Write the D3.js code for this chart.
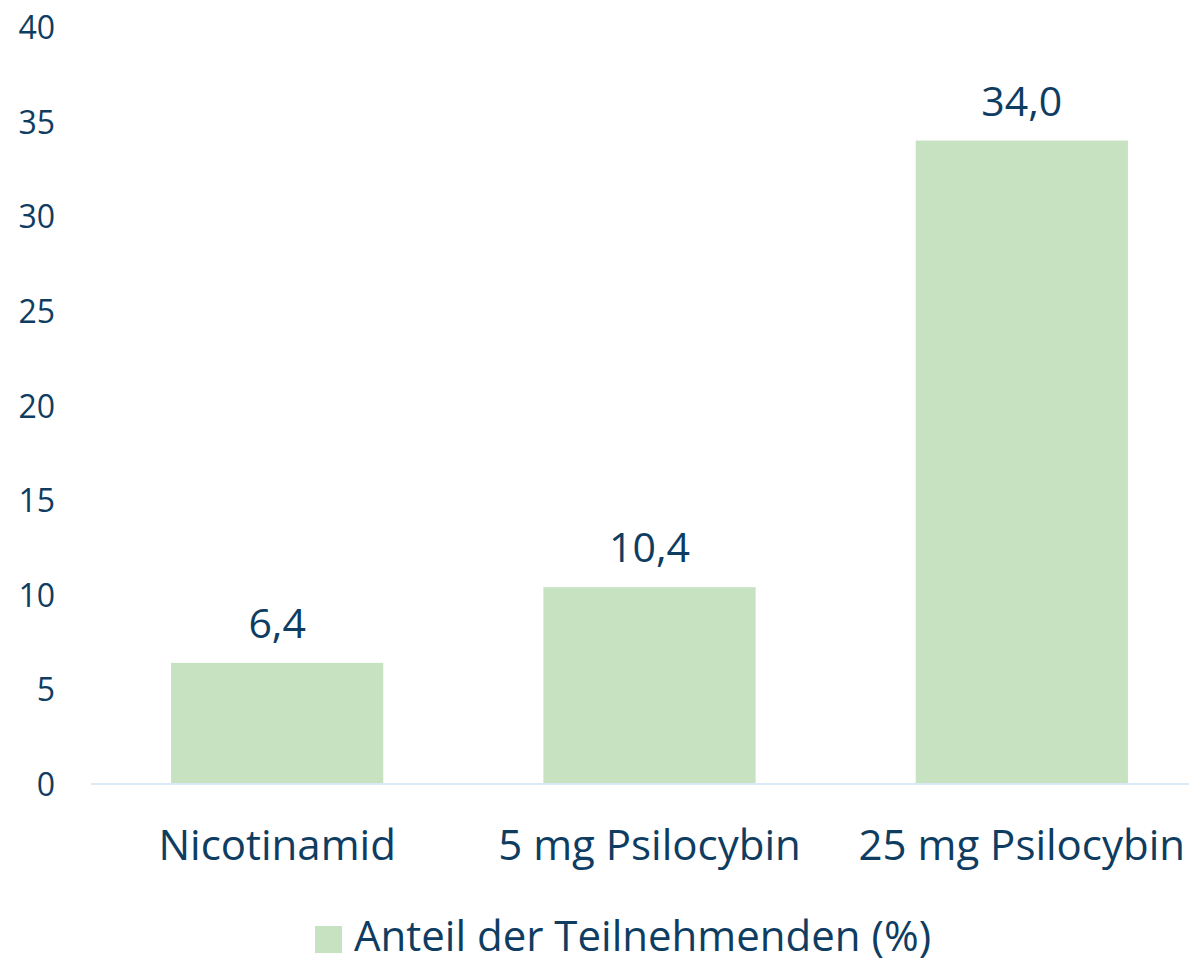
<!DOCTYPE html>
<html>
<head>
<meta charset="utf-8">
<script src="https://cdn.jsdelivr.net/npm/d3@7"></script>
<style>
  html, body { margin: 0; padding: 0; background: #ffffff; }
  svg { display: block; }
  text { font-family: "Open Sans", "Noto Sans", sans-serif; fill: #0f3d62; }
</style>
</head>
<body>
<svg id="chart" width="1189" height="962"></svg>
<script>
const categories = ["Nicotinamid", "5 mg Psilocybin", "25 mg Psilocybin"];
const values = [6.4, 10.4, 34.0];
const valueLabels = ["6,4", "10,4", "34,0"];
const yTicks = [0, 5, 10, 15, 20, 25, 30, 35, 40];
const seriesName = "Anteil der Teilnehmenden (%)";

const barColor = "#c7e2c1";
const textColor = "#0f3d62";
const axisColor = "#d9eaf6";

const svg = d3.select("#chart");

const x = d3.scaleBand()
  .domain(categories)
  .range([91, 1208])
  .paddingInner(0.43)
  .paddingOuter(0.215);

const y = d3.scaleLinear()
  .domain([0, 40])
  .range([784, 27]);

// y axis labels (no line)
const yAxis = d3.axisLeft(y).tickValues(yTicks).tickSize(0).tickPadding(0).tickFormat(d3.format("d"));
const gy = svg.append("g").attr("transform", "translate(55,0)").call(yAxis);
gy.select(".domain").remove();
gy.selectAll("text")
  .style("font-size", "32px")
  .attr("fill", textColor)
  .attr("dy", "0.36em");

// bars
svg.append("g").selectAll("rect")
  .data(categories)
  .join("rect")
  .attr("x", d => x(d))
  .attr("y", (d, i) => y(values[i]))
  .attr("width", x.bandwidth())
  .attr("height", (d, i) => y(0) - y(values[i]))
  .attr("fill", barColor);

// x axis
const xAxis = d3.axisBottom(x).tickSize(0).tickPadding(0);
const gx = svg.append("g").attr("transform", `translate(0,${y(0)})`).call(xAxis);
gx.select(".domain").attr("stroke", axisColor).attr("stroke-width", 2)
  .attr("d", `M91,0H1189`);
gx.selectAll("text")
  .style("font-size", "42px")
  .attr("fill", textColor)
  .attr("y", 76)
  .attr("dy", 0);

// value labels
svg.append("g").selectAll("text")
  .data(categories)
  .join("text")
  .attr("x", d => x(d) + x.bandwidth() / 2)
  .attr("y", (d, i) => y(values[i]) - 25)
  .attr("text-anchor", "middle")
  .style("font-size", "41px")
  .text((d, i) => valueLabels[i]);

// legend
const legend = svg.append("g");
legend.append("rect")
  .attr("x", 315).attr("y", 926)
  .attr("width", 27).attr("height", 27)
  .attr("fill", barColor);
legend.append("text")
  .attr("x", 354).attr("y", 951)
  .style("font-size", "42px")
  .text(seriesName);
</script>
</body>
</html>
